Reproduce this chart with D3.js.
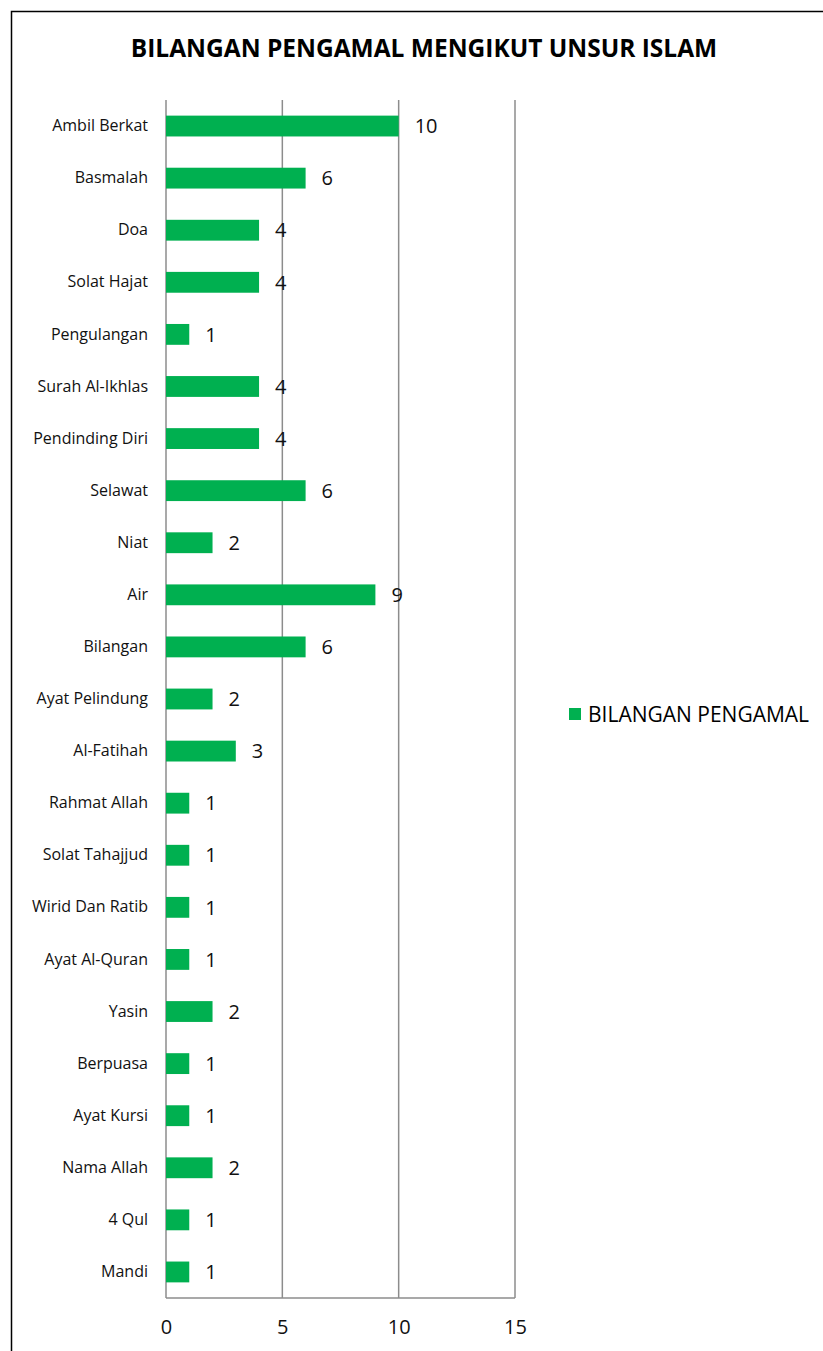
<!DOCTYPE html>
<html lang="ms">
<head>
<meta charset="UTF-8">
<title>Bilangan Pengamal Mengikut Unsur Islam</title>
<script src="https://d3js.org/d3.v7.min.js"></script>
<style>
  body { margin: 0; background: #fff; }
  svg { display: block; font-family: "Open Sans", sans-serif; }
  .grid line { stroke: #8c8c8c; stroke-width: 1.5px; }
  .cat text { font-size: 16px; fill: #111; }
  .xaxis text { font-size: 20px; fill: #111; }
  .val { font-size: 20px; fill: #111; }
</style>
</head>
<body>
<div id="chart"></div>
<script>
  // data, top to bottom as in the picture
  const categories = ["Ambil Berkat", "Basmalah", "Doa", "Solat Hajat", "Pengulangan",
    "Surah Al-Ikhlas", "Pendinding Diri", "Selawat", "Niat", "Air", "Bilangan",
    "Ayat Pelindung", "Al-Fatihah", "Rahmat Allah", "Solat Tahajjud", "Wirid Dan Ratib",
    "Ayat Al-Quran", "Yasin", "Berpuasa", "Ayat Kursi", "Nama Allah", "4 Qul", "Mandi"];
  const values = [10, 6, 4, 4, 1, 4, 4, 6, 2, 9, 6, 2, 3, 1, 1, 1, 1, 2, 1, 1, 2, 1, 1];
  const xTicks = [0, 5, 10, 15];
  const seriesName = "BILANGAN PENGAMAL";
  const title = "BILANGAN PENGAMAL MENGIKUT UNSUR ISLAM";

  const W = 823, H = 1351;
  const plot = { left: 166, right: 515, top: 100, bottom: 1298 };
  const green = "#00b050";

  const svg = d3.select("#chart").append("svg")
    .attr("width", W)
    .attr("height", H);

  // chart frame (runs off the right and bottom edge)
  svg.append("rect")
    .attr("x", 11.5).attr("y", 11.5)
    .attr("width", W + 20).attr("height", H + 20)
    .attr("fill", "none")
    .attr("stroke", "#000")
    .attr("stroke-width", 1.5);

  svg.append("text")
    .attr("x", 424).attr("y", 57)
    .attr("text-anchor", "middle")
    .style("font-size", "24.5px")
    .style("font-weight", "700")
    .text(title);

  const x = d3.scaleLinear().domain([0, 15]).range([plot.left, plot.right]);
  const y = d3.scaleBand().domain(categories).range([plot.top, plot.bottom]).paddingInner(0.6).paddingOuter(0.3);

  // vertical gridlines
  svg.append("g").attr("class", "grid")
    .selectAll("line")
    .data(xTicks)
    .join("line")
    .attr("x1", d => x(d)).attr("x2", d => x(d))
    .attr("y1", plot.top).attr("y2", plot.bottom);

  svg.append("line")
    .attr("x1", plot.left).attr("x2", plot.right)
    .attr("y1", plot.bottom).attr("y2", plot.bottom)
    .attr("stroke", "#8c8c8c").attr("stroke-width", 1.5);

  // x axis labels
  const xAxis = svg.append("g").attr("class", "xaxis")
    .attr("transform", `translate(0,${plot.bottom})`)
    .call(d3.axisBottom(x).tickValues(xTicks).tickSize(0).tickPadding(22))
    .attr("font-family", null).attr("font-size", null);
  xAxis.select(".domain").remove();

  // category labels
  const yAxis = svg.append("g").attr("class", "cat")
    .attr("transform", `translate(${plot.left},0)`)
    .call(d3.axisLeft(y).tickSize(0).tickPadding(18))
    .attr("font-family", null).attr("font-size", null);
  yAxis.select(".domain").remove();

  // bars
  svg.append("g")
    .selectAll("rect")
    .data(values)
    .join("rect")
    .attr("x", x(0))
    .attr("y", (d, i) => y(categories[i]))
    .attr("width", d => x(d) - x(0))
    .attr("height", y.bandwidth())
    .attr("fill", green);

  // value labels
  svg.append("g")
    .selectAll("text")
    .data(values)
    .join("text")
    .attr("class", "val")
    .attr("x", d => x(d) + 16)
    .attr("y", (d, i) => y(categories[i]) + y.bandwidth() / 2)
    .attr("dy", "0.36em")
    .text(d => d);

  // legend
  const legend = svg.append("g").attr("transform", "translate(569,708)");
  legend.append("rect")
    .attr("width", 12).attr("height", 12)
    .attr("fill", green);
  legend.append("text")
    .attr("x", 19).attr("y", 6)
    .attr("dy", "0.36em")
    .style("font-size", "21px")
    .text(seriesName);
</script>
</body>
</html>
